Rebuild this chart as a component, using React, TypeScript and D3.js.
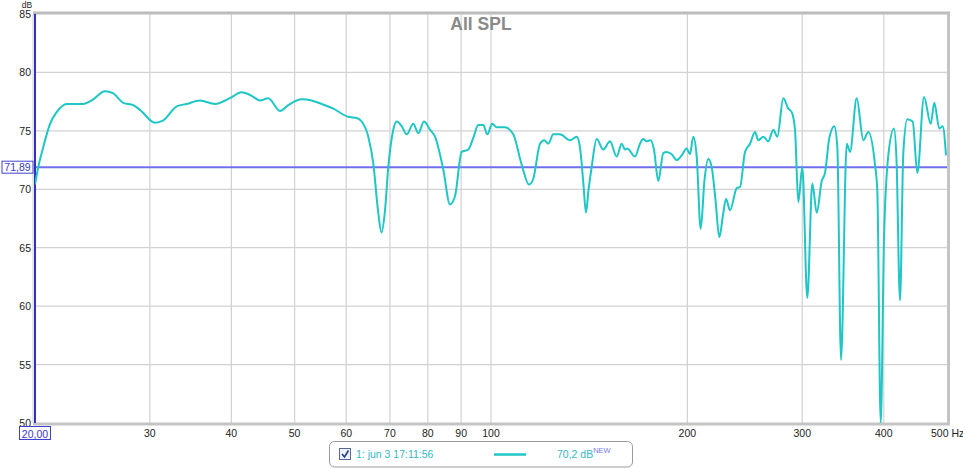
import React from 'react';
import * as d3 from 'd3';

const freqs = [
  20.0, 20.23, 20.59, 21.09, 21.59, 22.37, 23.72, 24.43, 25.6, 26.37, 27.31, 28.29, 28.97, 30.55, 31.46,
  32.98, 34.16, 35.8, 37.75, 39.8, 41.48, 42.97, 44.24, 45.56, 47.48, 48.89, 51.26, 53.1, 55.01, 57.31,
  60.43, 62.25, 63.36, 64.85, 66.01, 67.11, 67.95, 68.79, 69.59, 70.83, 71.69, 72.96, 74.26, 76.01, 77.37,
  78.94, 80.63, 82.07, 84.5, 86.53, 88.07, 90.17, 92.3, 93.94, 95.61, 97.31, 98.7, 100.45, 102.03, 105.06,
  108.18, 111.44, 114.35, 116.1, 118.88, 120.69, 122.41, 124.59, 127.57, 132.15, 135.31, 136.89, 138.59, 139.82, 141.06,
  142.66, 145.2, 148.62, 152.18, 155.82, 158.6, 160.46, 161.76, 166.22, 169.18, 171.16, 173.23, 175.7, 177.75, 180.48,
  183.69, 185.9, 189.21, 192.58, 196.02, 199.51, 201.84, 204.2, 206.68, 209.62, 212.45, 215.32, 217.92, 220.86, 223.84,
  226.8, 229.22, 232.49, 238.05, 240.84, 245.13, 249.5, 253.94, 256.92, 261.5, 266.11, 270.85, 274.71, 280.57, 285.59,
  289.03, 292.41, 295.83, 300.04, 305.38, 310.83, 315.7, 321.32, 325.08, 330.06, 335.94, 339.52, 343.98, 350.97, 355.07,
  363.56, 372.13, 378.75, 387.8, 390.97, 395.69, 400.31, 406.45, 414.71, 418.39, 423.57, 428.54, 434.64, 443.0, 450.26,
  461.04, 472.06, 478.1, 486.62, 492.48, 498.24,
];
const spl = [
  70.4, 71.9, 73.6, 75.6, 76.6, 77.3, 77.3, 77.6, 78.4, 78.2, 77.4, 77.2, 76.8, 75.7, 75.9,
  77.1, 77.3, 77.6, 77.3, 77.8, 78.3, 78.0, 77.6, 77.8, 76.7, 77.2, 77.7, 77.6, 77.3, 76.9,
  76.2, 76.1, 75.8, 74.5, 72.2, 68.2, 66.3, 68.2, 71.9, 75.1, 75.8, 75.4, 74.7, 75.6, 74.8,
  75.8, 75.1, 74.5, 71.7, 68.7, 69.4, 73.2, 73.4, 74.4, 75.5, 75.5, 74.7, 75.6, 75.3, 75.3,
  74.7, 72.1, 70.4, 70.9, 73.9, 74.2, 73.9, 74.7, 74.7, 74.2, 74.5, 73.6, 70.4, 68.0, 69.9,
  71.9, 74.3, 73.4, 74.1, 72.8, 73.9, 73.4, 73.5, 72.8, 73.9, 74.3, 74.1, 74.2, 73.4, 70.7,
  73.1, 73.2, 73.0, 72.5, 72.9, 73.5, 73.0, 74.5, 72.8, 66.6, 70.8, 72.6, 71.9, 69.1, 65.9,
  67.8, 69.2, 68.2, 70.1, 70.2, 73.2, 73.9, 74.9, 74.2, 74.5, 74.1, 75.1, 74.5, 77.8, 76.9,
  76.6, 75.1, 68.9, 71.9, 60.7, 70.5, 68.0, 70.7, 71.4, 74.4, 75.4, 73.6, 55.4, 73.9, 73.2,
  77.8, 74.2, 74.9, 72.1, 69.9, 50.0, 65.7, 72.9, 75.2, 72.5, 60.5, 73.1, 76.0, 75.8, 71.4,
  77.9, 75.6, 77.4, 75.2, 75.4, 72.9,
];

const yTicks = [50, 55, 60, 65, 70, 75, 80, 85];
const xGrid = [30, 40, 50, 60, 70, 80, 90, 100, 200, 300, 400];
const xLabels = ['30', '40', '50', '60', '70', '80', '90', '100', '200', '300', '400'];
const cursorDb = 71.89;
const cursorHz = 20.0;
const legendName = '1: jun 3 17:11:56';
const legendValue = '70,2 dB';

const W = 963;
const H = 469;
const left = 35, right = 947, top = 14, bottom = 423;
const font = '"Liberation Sans", Arial, sans-serif';
const curveColor = '#1ec6c6';

export default function App() {
  const x = d3.scaleLog().domain([20, 500]).range([left, right]);
  const y = d3.scaleLinear().domain([50, 85]).range([bottom, top]);

  const pts = freqs.map((f, i) => [f, spl[i]] as [number, number]);
  const line = d3.line<[number, number]>()
    .x(d => x(d[0]))
    .y(d => y(d[1]))
    .curve(d3.curveMonotoneX);

  const cy = y(cursorDb);

  return (
    <svg width={W} height={H} style={{ position: 'absolute', left: 0, top: 0, background: '#fff' }} fontFamily={font}>
      <defs>
        <clipPath id="plot">
          <rect x={left} y={top} width={right - left} height={bottom - top} />
        </clipPath>
      </defs>

      {/* grid */}
      {yTicks.slice(1, -1).map(t => (
        <line key={'h' + t} x1={left} x2={right} y1={y(t)} y2={y(t)} stroke="#d2d2d2" strokeWidth={1.2} />
      ))}
      {xGrid.map(f => (
        <line key={'v' + f} x1={x(f)} x2={x(f)} y1={top} y2={bottom} stroke="#d2d2d2" strokeWidth={1.2} />
      ))}

      {/* frame with shadow */}
      <line x1={left - 2} x2={right + 3} y1={top - 1} y2={top - 1} stroke="#bcbcbc" strokeWidth={3} />
      <line x1={right + 1.5} x2={right + 1.5} y1={top - 1} y2={bottom + 2} stroke="#c4c4c4" strokeWidth={3} />
      <line x1={left - 2} x2={right + 3} y1={bottom + 1} y2={bottom + 1} stroke="#c4c4c4" strokeWidth={3} />
      <line x1={left - 2} x2={left - 2} y1={top} y2={bottom} stroke="#cfcfcf" strokeWidth={1} />

      {/* title */}
      <text x={481} y={30} textAnchor="middle" fontSize={17.5} fontWeight="bold" fill="#8a8a8a">All SPL</text>

      {/* cursor lines */}
      <line x1={left} x2={right} y1={cy} y2={cy} stroke="#6f6ff0" strokeWidth={2} />
      <line x1={x(cursorHz)} x2={x(cursorHz)} y1={top} y2={bottom} stroke="#3030c8" strokeWidth={2} />

      {/* measurement */}
      <path d={line(pts) ?? ''} fill="none" stroke={curveColor} strokeWidth={2} strokeLinejoin="round" clipPath="url(#plot)" />

      {/* y axis labels */}
      <text x={27} y={8} textAnchor="middle" fontSize={8.5} fill="#222">dB</text>
      {yTicks.map(t => (
        <text key={'yl' + t} x={31} y={y(t) + 4} textAnchor="end" fontSize={10.5} fill="#222">{t}</text>
      ))}

      {/* x axis labels */}
      {xGrid.map((f, i) => (
        <text key={'xl' + f} x={x(f)} y={437} textAnchor="middle" fontSize={10.5} fill="#222">{xLabels[i]}</text>
      ))}
      <text x={931} y={437} fontSize={10.5} fill="#222">500 Hz</text>

      {/* cursor value boxes */}
      <rect x={2} y={cy - 6} width={31} height={12} fill="#fff" stroke="#4040d0" strokeWidth={1} />
      <text x={17.5} y={cy + 4} textAnchor="middle" fontSize={10.5} fill="#3838c8">{String(cursorDb).replace('.', ',')}</text>
      <rect x={19.5} y={426.5} width={31} height={13} fill="#fff" stroke="#4040d0" strokeWidth={1} />
      <text x={35} y={437.5} textAnchor="middle" fontSize={10.5} fill="#3838c8">{cursorHz.toFixed(2).replace('.', ',')}</text>

      {/* legend */}
      <rect x={329.5} y={441.5} width={303} height={25.5} rx={5} fill="#fff" stroke="#9a9a9a" strokeWidth={1} />
      <rect x={339.5} y={448.5} width={11} height={11} fill="#eef2fa" stroke="#56679a" strokeWidth={1} />
      <path d="M342 454 L344.5 457 L348.5 450.5" fill="none" stroke="#233a8a" strokeWidth={1.6} />
      <text x={356} y={458} fontSize={10.5} fill="#33b8c8">{legendName}</text>
      <line x1={494} x2={526} y1={454.5} y2={454.5} stroke={curveColor} strokeWidth={2.5} />
      <text x={557} y={458} fontSize={10.5} fill="#33b8c8">
        {legendValue}
        <tspan dy={-5.5} fontSize={7.5} fill="#7a7af0">NEW</tspan>
      </text>
    </svg>
  );
}
